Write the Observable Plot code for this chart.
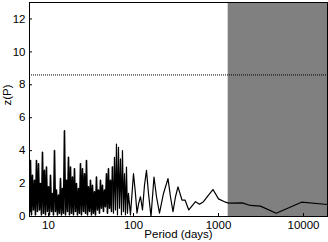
<!DOCTYPE html>
<html><head><meta charset="utf-8">
<script src="https://cdn.jsdelivr.net/npm/d3@7"></script>
<script src="https://cdn.jsdelivr.net/npm/@observablehq/plot@0.6"></script>
<style>body{margin:0;background:#fff}</style>
</head><body><div id="chart"></div>
<script>
// Period (days) and periodogram power z(P)
const periods = [6.06,6.14,6.31,6.48,6.66,6.84,7.03,7.22,7.42,7.63,7.84,8.05,8.27,8.50,8.73,8.97,9.22,9.47,9.73,10.00,
10.27,10.56,10.85,11.15,11.45,11.77,12.09,12.42,12.76,13.11,13.47,13.84,14.22,14.61,15.01,15.42,15.85,16.28,16.73,17.19,
17.66,18.15,18.64,19.16,19.68,20.22,20.78,21.35,21.93,22.54,23.16,23.79,24.44,25.11,25.80,26.51,27.24,27.99,28.76,29.55,
30.36,31.19,32.05,32.93,33.83,34.76,35.71,36.69,37.70,38.74,39.80,40.89,42.01,43.17,44.35,45.57,46.82,48.11,49.43,50.78,
52.18,53.61,55.08,56.59,58.15,59.74,61.38,63.07,64.80,66.58,68.41,70.29,72.21,74.20,76.23,78.33,80.48,82.69,84.96,87.29,
92.15,100.0,105.0,110.0,115.1,120.9,127.6,134.7,142.2,150.2,160.7,174.3,186.5,202.3,225.4,254.6,272.4,291.5,312.0,333.8,
372.1,403.6,447.3,536.3,597.6,666.2,762.6,861.6,1000,1209,1322,1901,2378,3119,4775,9468,19160];
const zValues = [0.3,3.4,0.1,2.5,0.4,2.2,0.1,3.4,0.3,3.2,0.4,2.0,0.1,3.9,0.2,2.8,0.1,3.0,0.3,1.8,
0.1,2.5,0.3,1.4,0.1,4.0,0.3,1.6,0.1,1.3,0.2,2.3,0.1,1.7,0.2,5.2,0.1,2.2,0.3,3.6,
0.1,3.0,0.2,2.4,0.1,2.9,0.3,2.0,0.1,1.7,0.2,3.2,0.1,2.9,0.3,2.6,0.2,3.4,0.1,1.8,
0.3,2.2,0.1,1.9,0.2,1.5,0.1,2.4,0.4,1.6,0.2,2.2,0.5,1.9,0.3,1.6,0.6,2.6,0.2,2.9,
0.5,2.2,0.3,3.0,0.2,3.6,0.4,4.4,0.1,4.2,0.5,3.5,0.1,4.0,0.3,2.6,0.1,3.0,0.2,1.4,
0.1,2.6,1.5,0.2,0.8,1.2,0.4,1.9,2.8,1.4,0.0,2.4,1.2,0.2,1.4,2.3,1.2,0.3,1.2,1.8,
1.0,1.0,0.4,0.9,0.75,0.9,1.3,1.64,1.07,0.87,0.81,0.83,0.67,0.63,0.2,0.87,0.73];

const xDomain = [5.98, 19160];
const yDomain = [0, 13];
const xTicks = [10, 100, 1000, 10000];
const yTicks = [0, 2, 4, 6, 8, 10, 12];
const thresholdLevel = [8.6];
const shadedFrom = [1300];
const denseUntil = 56.59; // below this period the oscillations are sub-pixel
const xLabel = "Period (days)";
const yLabel = "z(P)";

const series = periods.map((p, i) => ({p, z: zValues[i]}));
const denseSeries = series.filter(d => d.p <= denseUntil);
const sparseSeries = series.filter(d => d.p >= denseUntil);
const shaded = shadedFrom.map(s => ({x1: s, x2: xDomain[1]}));

const chart = Plot.plot({
  width: 328, height: 242,
  marginLeft: 29, marginRight: 1, marginTop: 2, marginBottom: 26,
  style: {fontFamily: "'Liberation Sans', Arial, Helvetica, sans-serif", fontSize: "11.5px", color: "black", background: "white", overflow: "visible"},
  x: {type: "log", domain: xDomain},
  y: {domain: yDomain},
  marks: [
    Plot.rect(shaded, {x1: "x1", x2: "x2", y1: yDomain[0], y2: yDomain[1], fill: "#808080"}),
    Plot.ruleY(thresholdLevel, {stroke: "black", strokeDasharray: "1,1"}),
    Plot.line(denseSeries, {x: "p", y: "z", stroke: "black", strokeWidth: 1.6}),
    Plot.line(sparseSeries, {x: "p", y: "z", stroke: "black", strokeWidth: 1.2}),
    Plot.frame({stroke: "black"}),
    Plot.axisX(xTicks, {tickSize: -3, tickPadding: 7, tickFormat: d3.format("d"), label: null}),
    Plot.axisY(yTicks, {tickSize: -3, tickPadding: 7, tickFormat: d3.format("d"), label: null}),
    Plot.text([xLabel], {frameAnchor: "bottom", dy: 21, text: d => d}),
    Plot.text([yLabel], {frameAnchor: "left", rotate: -90, dx: -22, dy: -4, text: d => d})
  ]
});
document.getElementById("chart").appendChild(chart);
</script>
</body></html>
